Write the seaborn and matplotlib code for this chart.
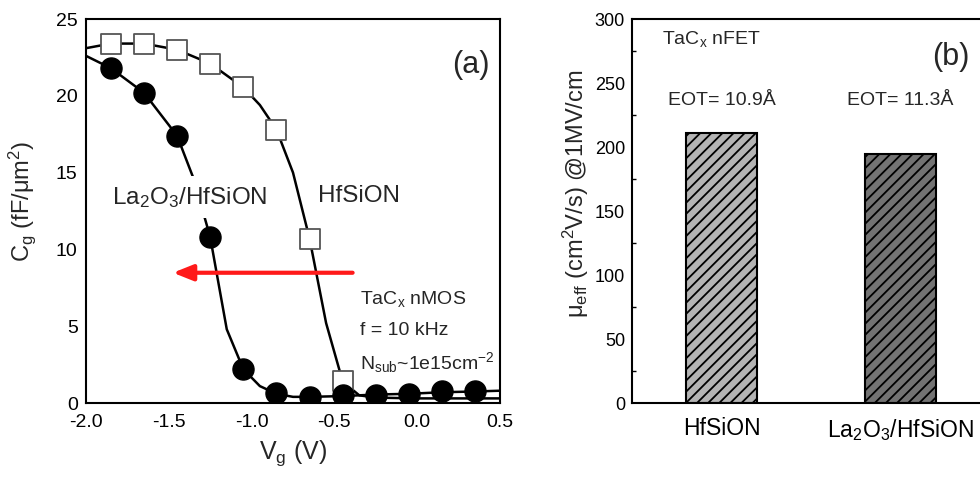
import matplotlib
matplotlib.use("Agg")
import matplotlib.pyplot as plt
import seaborn as sns
import pandas as pd
from matplotlib.ticker import MultipleLocator

# ---- data: panel (a) C-V ----
hf_v = [-1.85, -1.65, -1.45, -1.25, -1.05, -0.85, -0.65, -0.45]
hf_c = [23.4, 23.4, 23.0, 22.1, 20.55, 17.8, 10.7, 1.4]
la_v = [-1.85, -1.65, -1.45, -1.25, -1.05, -0.85, -0.65, -0.45, -0.25, -0.05, 0.15, 0.35]
la_c = [21.8, 20.2, 17.4, 10.8, 2.2, 0.65, 0.4, 0.5, 0.55, 0.6, 0.75, 0.75]
# smooth fit curves
hf_fit_v = [-2.0, -1.85, -1.65, -1.45, -1.25, -1.05, -0.95, -0.85, -0.75, -0.65, -0.55, -0.45, -0.35, -0.25, 0.0, 0.25, 0.5]
hf_fit_c = [23.1, 23.4, 23.4, 23.0, 22.1, 20.55, 19.4, 17.8, 15.0, 10.7, 5.2, 1.4, 0.5, 0.35, 0.3, 0.3, 0.3]
la_fit_v = [-2.0, -1.85, -1.65, -1.45, -1.35, -1.25, -1.15, -1.05, -0.95, -0.85, -0.75, -0.65, -0.45, -0.25, -0.05, 0.15, 0.35, 0.5]
la_fit_c = [22.6, 21.8, 20.2, 17.4, 14.6, 10.8, 4.8, 2.2, 1.1, 0.6, 0.4, 0.4, 0.45, 0.55, 0.6, 0.7, 0.75, 0.8]

# ---- data: panel (b) mobility ----
devices = ["HfSiON", "La$_2$O$_3$/HfSiON"]
mobility = [211, 194.5]
eot_labels = ["EOT= 10.9Å", "EOT= 11.3Å"]
bar_colors = ["#b4b4b4", "#737373"]

sns.set_theme(style="white")
plt.rcParams["font.family"] = ["Liberation Sans", "DejaVu Sans"]
plt.rcParams["mathtext.fontset"] = "custom"
plt.rcParams["mathtext.rm"] = "Liberation Sans"
plt.rcParams["mathtext.it"] = "Liberation Sans"
plt.rcParams["hatch.linewidth"] = 1.3
plt.rcParams["hatch.color"] = "#2a2a2a"

fig = plt.figure(figsize=(9.8, 4.8), dpi=100)
ax1 = fig.add_axes([86/980, 77/480, 414/980, 384/480])
ax2 = fig.add_axes([632/980, 77/480, 358/980, 384/480])

# ---- panel (a) ----
hf_fit = pd.DataFrame({"V": hf_fit_v, "C": hf_fit_c})
la_fit = pd.DataFrame({"V": la_fit_v, "C": la_fit_c})
sns.lineplot(data=hf_fit, x="V", y="C", ax=ax1, color="black", lw=1.8, sort=False, zorder=2)
sns.lineplot(data=la_fit, x="V", y="C", ax=ax1, color="black", lw=1.8, sort=False, zorder=2)
hf_df = pd.DataFrame({"V": hf_v, "C": hf_c})
la_df = pd.DataFrame({"V": la_v, "C": la_c})
sns.scatterplot(data=hf_df, x="V", y="C", ax=ax1, marker="s", s=190, color="white",
                edgecolor="#555555", linewidth=1.3, zorder=4)
sns.scatterplot(data=la_df, x="V", y="C", ax=ax1, marker="o", s=230, color="black",
                edgecolor="black", linewidth=1, zorder=4)

ax1.set_xlim(-2.0, 0.5)
ax1.set_ylim(0, 25)
ax1.xaxis.set_major_locator(MultipleLocator(0.5))
ax1.xaxis.set_minor_locator(MultipleLocator(0.25))
ax1.yaxis.set_major_locator(MultipleLocator(5))
ax1.yaxis.set_minor_locator(MultipleLocator(2.5))
ax1.set_xticklabels([f"{v:.1f}" for v in ax1.get_xticks()])
ax1.set_xlabel("V$_g$ (V)", fontsize=18, labelpad=5)
ax1.set_ylabel("C$_g$ (fF/μm$^2$)", fontsize=17)
ax1.yaxis.set_label_coords(-0.115, 0.525)

ax1.annotate("", xy=(-1.475, 8.48), xytext=(-0.39, 8.48),
             arrowprops=dict(arrowstyle="-|>,head_length=1.0,head_width=0.4",
                             color="#ff1a1a", lw=3, mutation_scale=12, shrinkA=0, shrinkB=0))
ax1.text(-1.84, 13.4, "La$_2$O$_3$/HfSiON", fontsize=17.5, va="center", ha="left", zorder=3,
         bbox=dict(boxstyle="square,pad=0.35", facecolor="white", edgecolor="none"))
ax1.text(-0.60, 13.5, "HfSiON", fontsize=17.5, va="center", ha="left")
ax1.text(-0.345, 6.8, "TaC$_x$ nMOS", fontsize=14, va="center", ha="left")
ax1.text(-0.345, 4.75, "f = 10 kHz", fontsize=14, va="center", ha="left")
ax1.text(-0.345, 2.65, "N$_{sub}$~1e15cm$^{-2}$", fontsize=14, va="center", ha="left")
ax1.text(0.44, 22.0, "(a)", fontsize=22, va="center", ha="right")

# ---- panel (b) ----
bdf = pd.DataFrame({"device": devices, "mu": mobility})
sns.barplot(data=bdf, x="device", y="mu", hue="device", palette=bar_colors, ax=ax2,
            width=0.4, legend=False, edgecolor="black", linewidth=1.5, saturation=1)
for p in ax2.patches:
    p.set_hatch("///")
ax2.set_xlim(-0.5, 1.5)
ax2.set_ylim(0, 300)
ax2.yaxis.set_major_locator(MultipleLocator(50))
ax2.yaxis.set_minor_locator(MultipleLocator(25))
ax2.set_xlabel("")
ax2.set_ylabel("μ$_{eff}$ (cm$^2$V/s) @1MV/cm", fontsize=17)
ax2.yaxis.set_label_coords(-0.115, 0.545)
for i, t in enumerate(eot_labels):
    ax2.text(i, 236.7, t, fontsize=14, ha="center", va="center")
ax2.text(-0.33, 284.5, "TaC$_x$ nFET", fontsize=14, ha="left", va="center")
ax2.text(1.28, 270, "(b)", fontsize=22, ha="center", va="center")

for ax in (ax1, ax2):
    for s in ax.spines.values():
        s.set_visible(True)
        s.set_color("black")
        s.set_linewidth(1.5)
    ax.tick_params(which="both", direction="in", colors="black", top=False, right=False)
    ax.tick_params(which="major", length=5, width=1.2)
    ax.tick_params(which="minor", length=3, width=1.0)
ax1.tick_params(axis="x", labelsize=14, pad=8)
ax1.tick_params(axis="y", labelsize=14, pad=6)
ax2.tick_params(axis="y", labelsize=13, pad=5)
ax2.tick_params(axis="x", labelsize=16.5, length=0, pad=10)
ax2.yaxis.set_tick_params(which="minor", left=True)

fig.savefig("out.png", dpi=100)
